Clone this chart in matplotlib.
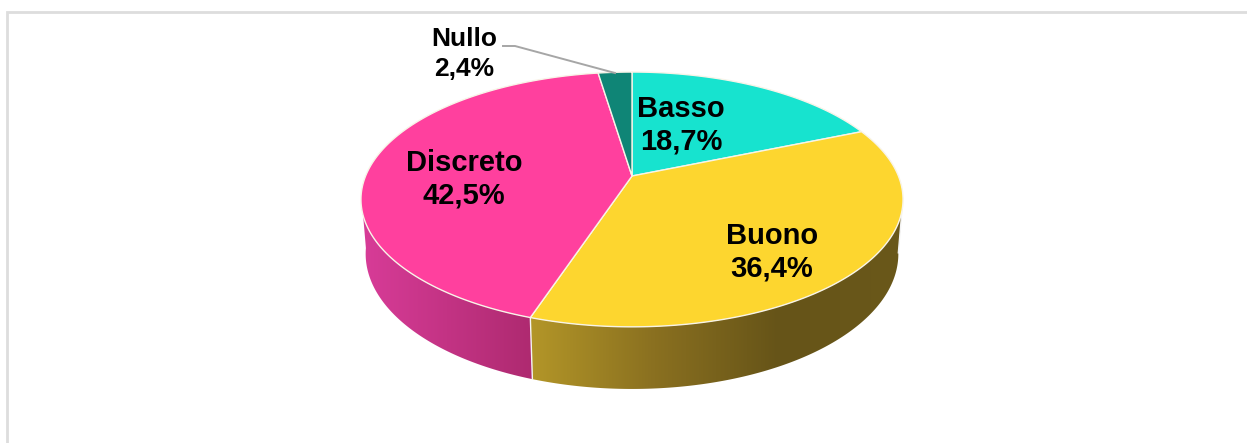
import numpy as np
import matplotlib
matplotlib.use('Agg')
from matplotlib import pyplot as plt
from matplotlib.colors import LinearSegmentedColormap
from matplotlib.patches import Polygon

categories = ['Basso', 'Buono', 'Discreto', 'Nullo']
values = [18.7, 36.4, 42.5, 2.4]
top_colors = ['#17E3CF', '#FDD62F', '#FF409E', '#0F8576']
wall_colors = [None, ['#B39628', '#8A7020', '#665418', '#6A581A'], ['#D83C98', '#AE2A70'], None]
label_pos = [(681, 125.5), (772, 252.5), (464, 179.5), (464, 54)]

W, H = 1247, 443
CX = 632
# perspective of the pie plane, fitted on the picture (in pixels)
AX, AY, BY, PC = 266.4, 90.7, 176.0, -0.184
DEPTH_Y, DEPTH_D = 57.3, 0.017


def rim(theta_deg, depth=0.0):
    t = np.radians(theta_deg)
    u, v = np.sin(t), -np.cos(t)
    den = 1 + PC * v + DEPTH_D * depth
    return CX + AX * u / den, (BY + AY * v + DEPTH_Y * depth) / den


def main():
    plt.rcParams['font.family'] = ['Liberation Sans', 'DejaVu Sans']
    fig = plt.figure(figsize=(W / 100, H / 100), dpi=100)
    ax = fig.add_axes([0, 0, 1, 1])
    ax.set_xlim(0, W)
    ax.set_ylim(H, 0)
    ax.axis('off')

    # chart frame, only top and left are in the crop
    ax.plot([7, 7, W], [H, 12, 12], color='#DDDDDD', lw=2.0, solid_joinstyle='miter')

    edges = np.concatenate([[0], np.cumsum(values)]) * 360 / sum(values)

    # side wall, only the front part can be seen
    for i in range(len(values)):
        if wall_colors[i] is None:
            continue
        a0, a1 = max(edges[i], 100), min(edges[i + 1], 262)
        th = np.linspace(a0, a1, 200)
        xt, yt = rim(th)
        xb, yb = rim(th[::-1], 1.0)
        pts = np.column_stack([np.r_[xt, xb], np.r_[yt, yb]])
        x0, x1 = pts[:, 0].min(), pts[:, 0].max()
        cmap = LinearSegmentedColormap.from_list('wall', wall_colors[i])
        im = ax.imshow(np.linspace(0, 1, 256)[None, :], cmap=cmap, extent=[x0, x1, 400, 100],
                       aspect='auto', zorder=2)
        im.set_clip_path(Polygon(pts, transform=ax.transData))
        ax.plot([rim(a0)[0], rim(a0, 1.0)[0]], [rim(a0)[1], rim(a0, 1.0)[1]],
                color='#F4F4F4', lw=1.0, zorder=3)
    ax.set_xlim(0, W)
    ax.set_ylim(H, 0)

    # top face
    for i in range(len(values)):
        th = np.linspace(edges[i], edges[i + 1], 200)
        xt, yt = rim(th)
        pts = np.column_stack([np.r_[CX, xt], np.r_[BY, yt]])
        ax.add_patch(Polygon(pts, closed=True, facecolor=top_colors[i], edgecolor='#F8F4E8', lw=1.0,
                             joinstyle='round', zorder=4))

    # labels
    for name, val, (lx, ly) in zip(categories, values, label_pos):
        txt = name + '\n' + ('%.1f%%' % val).replace('.', ',')
        small = name == 'Nullo'
        ax.text(lx, ly, txt, ha='center', va='center', fontweight='bold', color='black',
                fontsize=19 if small else 21, linespacing=1.28 if small else 1.2, zorder=6)

    # leader line for the small slice
    ax.plot([503, 515, 615], [46, 46, 73], color='#A6A6A6', lw=1.4, zorder=5)

    fig.savefig('out.png', dpi=100, facecolor='white')


if __name__ == '__main__':
    main()
